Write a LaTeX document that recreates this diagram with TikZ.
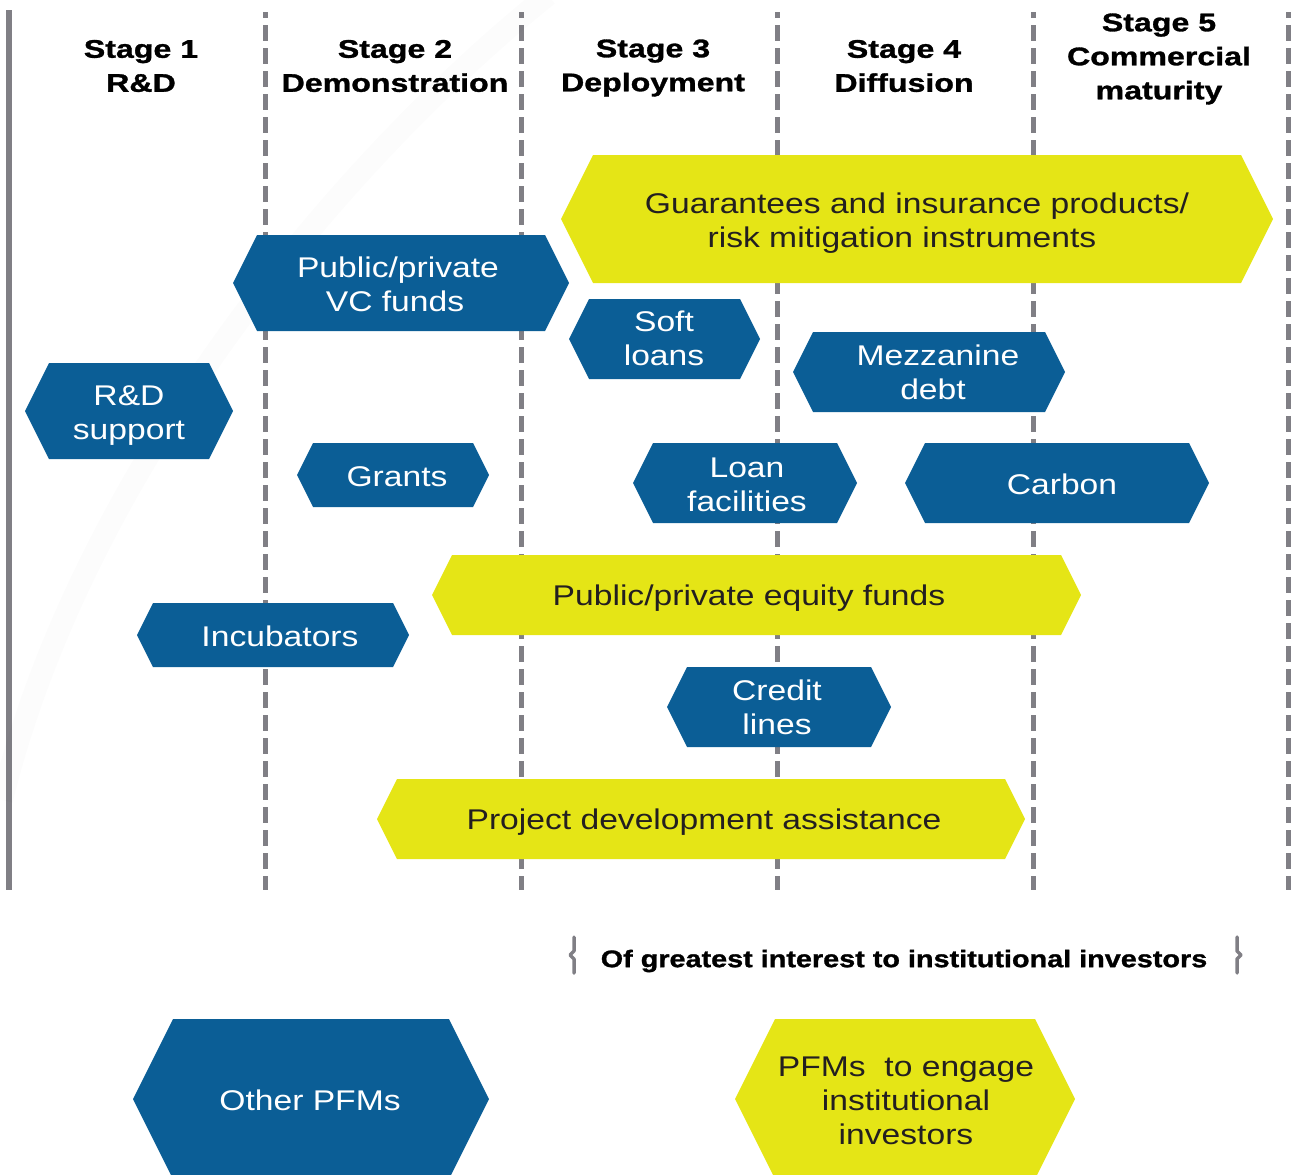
\documentclass[tikz,border=0pt]{standalone}
\usepackage{fontspec}
\setmainfont{Liberation Sans}
\newfontfamily\bodyfont{Liberation Sans}[FakeStretch=1.18]
\newfontfamily\headfont{Liberation Sans}[FakeStretch=1.26, BoldFeatures={FakeBold=1.2}]
\newfontfamily\notefont{Liberation Sans}[FakeStretch=1.2, BoldFeatures={FakeBold=1.2}]
\definecolor{pfblue}{RGB}{11,94,150}
\definecolor{pfyellow}{RGB}{229,229,22}
\definecolor{linegray}{RGB}{128,127,133}
\definecolor{txtdark}{RGB}{35,31,32}
\newcommand\hexshape[5]{%
  \pgfmathsetmacro\hexm{(#3+#4)/2}%
  \pgfmathsetmacro\hexd{(#4-#3)/4}%
  \fill[#5] (#1,\hexm) -- (#1+\hexd,#3) -- (#2-\hexd,#3) -- (#2,\hexm) -- (#2-\hexd,#4) -- (#1+\hexd,#4) -- cycle;}
\tikzset{
  bluehex/.style={fill=pfblue},
  yellowhex/.style={fill=pfyellow},
  bluetxt/.style={text=white, align=center, inner sep=0pt, font=\bodyfont\fontsize{28.5}{34}\selectfont},
  yellowtxt/.style={text=txtdark, align=center, inner sep=0pt, font=\bodyfont\fontsize{28.5}{34}\selectfont},
  headtxt/.style={text=black, align=center, inner sep=0pt, font=\headfont\bfseries\fontsize{25.5}{34}\selectfont},
  notetxt/.style={text=black, inner sep=0pt, font=\notefont\bfseries\fontsize{24}{28}\selectfont},
  stageline/.style={draw=linegray, line width=5pt, dash pattern=on 16pt off 7pt, dash phase=10pt},
  axisline/.style={draw=linegray, line width=6pt},
  bracegray/.style={draw=linegray, line width=3.5pt, line join=round, line cap=round},
}
\begin{document}
\begin{tikzpicture}[x=1pt,y=-1pt]
\useasboundingbox (0,0) rectangle (1291,1175);
\clip (0,0) rectangle (1291,1175);
% stage separators
\coordinate (a0) at (9,10);   \coordinate (b0) at (9,890);
\coordinate (a1) at (265,12); \coordinate (b1) at (265,890);
\coordinate (a2) at (521,12); \coordinate (b2) at (521,890);
\coordinate (a3) at (777,12); \coordinate (b3) at (777,890);
\coordinate (a4) at (1033,12); \coordinate (b4) at (1033,890);
\coordinate (a5) at (1288,12); \coordinate (b5) at (1288,890);
\draw[axisline] (a0) -- (b0);
\foreach \i in {1,...,5} \draw[stageline] (a\i) -- (b\i);
% faint swoosh
\draw[black, opacity=0.013, line width=22pt] (548,-5) .. controls (330,170) and (80,480) .. (2,800);
% headers
\node[headtxt] (s1) at (141,66) {Stage 1\\R\&D};
\node[headtxt] (s2) at (395,66) {Stage 2\\Demonstration};
\node[headtxt] (s3) at (653,68) {Stage 3\\Deployment};
\node[headtxt] (s4) at (904,66) {Stage 4\\Diffusion};
\node[headtxt] (s5) at (1159,59) {Stage 5\\Commercial\\maturity};
% shapes
\hexshape{561}{1273}{155}{283}{yellowhex}
\node[yellowtxt] (guar) at (917,223) {Guarantees and insurance products/\\risk mitigation instruments\hspace*{30pt}};
\hexshape{233}{569}{235}{331}{bluehex}
\node[bluetxt] (vc) at (398,284) {Public/private\\VC funds\hspace*{6pt}};
\hexshape{569}{760}{299}{379}{bluehex}
\node[bluetxt] (soft) at (664,338.5) {Soft\\loans};
\hexshape{793}{1065}{332}{412}{bluehex}
\node[bluetxt] (mezz) at (938,372) {Mezzanine\\debt\hspace*{10pt}};
\hexshape{25}{233}{363}{459}{bluehex}
\node[bluetxt] (rd) at (129,416) {R\&D\\support};
\hexshape{297}{489}{443}{507}{bluehex}
\node[bluetxt] (grants) at (397,477) {Grants};
\hexshape{633}{857}{443}{523}{bluehex}
\node[bluetxt] (loan) at (747,485) {Loan\\facilities};
\hexshape{905}{1209}{443}{523}{bluehex}
\node[bluetxt] (carbon) at (1062,484) {Carbon};
\hexshape{432}{1081}{555}{635}{yellowhex}
\node[yellowtxt] (equity) at (749,598) {Public/private equity funds};
\hexshape{137}{409}{603}{667}{bluehex}
\node[bluetxt] (incub) at (280,636) {Incubators};
\hexshape{667}{891}{667}{747}{bluehex}
\node[bluetxt] (credit) at (777,707.5) {Credit\\lines};
\hexshape{377}{1025}{779}{859}{yellowhex}
\node[yellowtxt] (proj) at (704,822) {Project development assistance};
% bracket note
\draw[bracegray] (574,937) -- (574,951) -- (570,955) -- (574,959) -- (574,973);
\draw[bracegray] (1237,937) -- (1237,951) -- (1241,955) -- (1237,959) -- (1237,973);
\node[notetxt] (note) at (904,961) {Of greatest interest to institutional investors};
% bottom legend
\hexshape{133}{489}{1019}{1179}{bluehex}
\node[bluetxt] (other) at (310,1100) {Other PFMs};
\hexshape{735}{1075}{1019}{1179}{yellowhex}
\node[yellowtxt] (pfm) at (906,1101) {PFMs\ \ to engage\\institutional\\investors};
\end{tikzpicture}
\end{document}
